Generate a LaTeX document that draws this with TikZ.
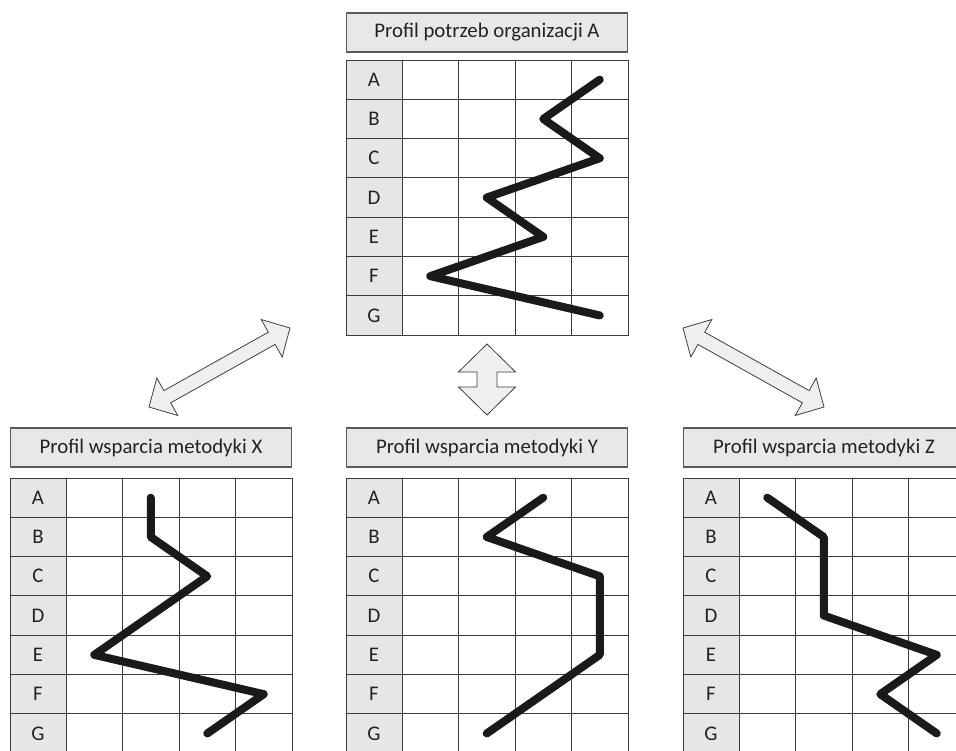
\documentclass[tikz,border=0pt]{standalone}
\usepackage{fontspec}
\setmainfont{Carlito}
\definecolor{gridcol}{HTML}{3C3C3C}
\definecolor{boxcol}{HTML}{5A5A5A}
\definecolor{titlefill}{HTML}{E8E8E8}
\definecolor{labelfill}{HTML}{E6E6E6}
\definecolor{arrowfill}{HTML}{EFEFEF}
\definecolor{arrowdraw}{HTML}{404040}
\definecolor{textcol}{HTML}{222222}
\definecolor{profcol}{HTML}{1A1A1A}
\tikzset{
  titlebox/.style={draw=boxcol, fill=titlefill, line width=0.8pt, minimum width=210.75pt, minimum height=29.25pt, inner sep=0pt, font=\fontsize{15.6}{18}\selectfont, text=textcol},
  labelcell/.style={draw=gridcol, fill=labelfill, line width=0.7pt, minimum width=42pt, minimum height=29.475pt, inner sep=0pt, font=\fontsize{15.6}{18}\selectfont, text=textcol},
  gridline/.style={draw=gridcol, line width=0.7pt},
  profline/.style={draw=profcol, line width=6pt, line cap=round, line join=round},
  bigarrow/.style={draw=arrowdraw, fill=arrowfill, line width=0.6pt, line join=miter}
}
% #1 prefix, #2 x0, #3 title top, #4 grid top, #5 title text
\newcommand\profgrid[5]{%
  \node[titlebox] (#1-title) at (#2+141,#3+19.5) {#5};
  \draw[gridline] (#2,#4) rectangle (#2+282,#4+275.1);
  \foreach \r in {1,...,6} \draw[gridline] (#2,#4+\r*39.3) -- (#2+282,#4+\r*39.3);
  \foreach \c in {1,...,4} \draw[gridline] (#2+56+\c*56.5,#4) -- (#2+56+\c*56.5,#4+275.1);
  \foreach \r/\l in {1/A,2/B,3/C,4/D,5/E,6/F,7/G}
    \node[labelcell] (#1-\l) at (#2+28,#4+\r*39.3-19.65) {\l};
  \foreach \c in {1,...,4} \foreach \r in {1,...,7}
    \coordinate (#1-\c-\r) at (#2+56+\c*56.5-28.25,#4+\r*39.3-19.65);
}
\begin{document}
\begin{tikzpicture}[x=0.75pt,y=-0.75pt]
\useasboundingbox (0,0) rectangle (956,750);
\clip (0,0) rectangle (956,750);
\fill[white] (0,0) rectangle (956,750);

\profgrid{top}{346}{13}{60}{Profil potrzeb organizacji A}
\profgrid{X}{10}{428}{478}{Profil wsparcia metodyki X}
\profgrid{Y}{346}{428}{478}{Profil wsparcia metodyki Y}
\profgrid{Z}{683}{428}{478}{Profil wsparcia metodyki Z}

\draw[profline] (top-4-1) -- (top-3-2) -- (top-4-3) -- (top-2-4) -- (top-3-5) -- (top-1-6) -- (top-4-7);
\draw[profline] (X-2-1) -- (X-2-2) -- (X-3-3) -- (X-1-5) -- (X-4-6) -- (X-3-7);
\draw[profline] (Y-3-1) -- (Y-2-2) -- (Y-4-3) -- (Y-4-5) -- (Y-2-7);
\draw[profline] (Z-1-1) -- (Z-2-2) -- (Z-2-4) -- (Z-4-5) -- (Z-3-6) -- (Z-4-7);

% left double arrow
\draw[bigarrow] (290,328) -- (282.2,357.0) -- (275.1,344.4) -- (170.7,402.8) -- (177.8,415.5)
  -- (149,407) -- (156.8,378.0) -- (163.9,390.6) -- (268.3,332.2) -- (261.2,319.5) -- cycle;
% right double arrow (mirror)
\draw[bigarrow] (683,328) -- (690.8,357.0) -- (697.9,344.4) -- (802.3,402.8) -- (795.2,415.5)
  -- (824,407) -- (816.2,378.0) -- (809.1,390.6) -- (704.7,332.2) -- (711.8,319.5) -- cycle;
% middle vertical double arrow
\draw[bigarrow] (487,344) -- (515.5,372) -- (497,372) -- (497,387) -- (515.5,387) -- (487,415)
  -- (458.5,387) -- (477,387) -- (477,372) -- (458.5,372) -- cycle;
\end{tikzpicture}
\end{document}
